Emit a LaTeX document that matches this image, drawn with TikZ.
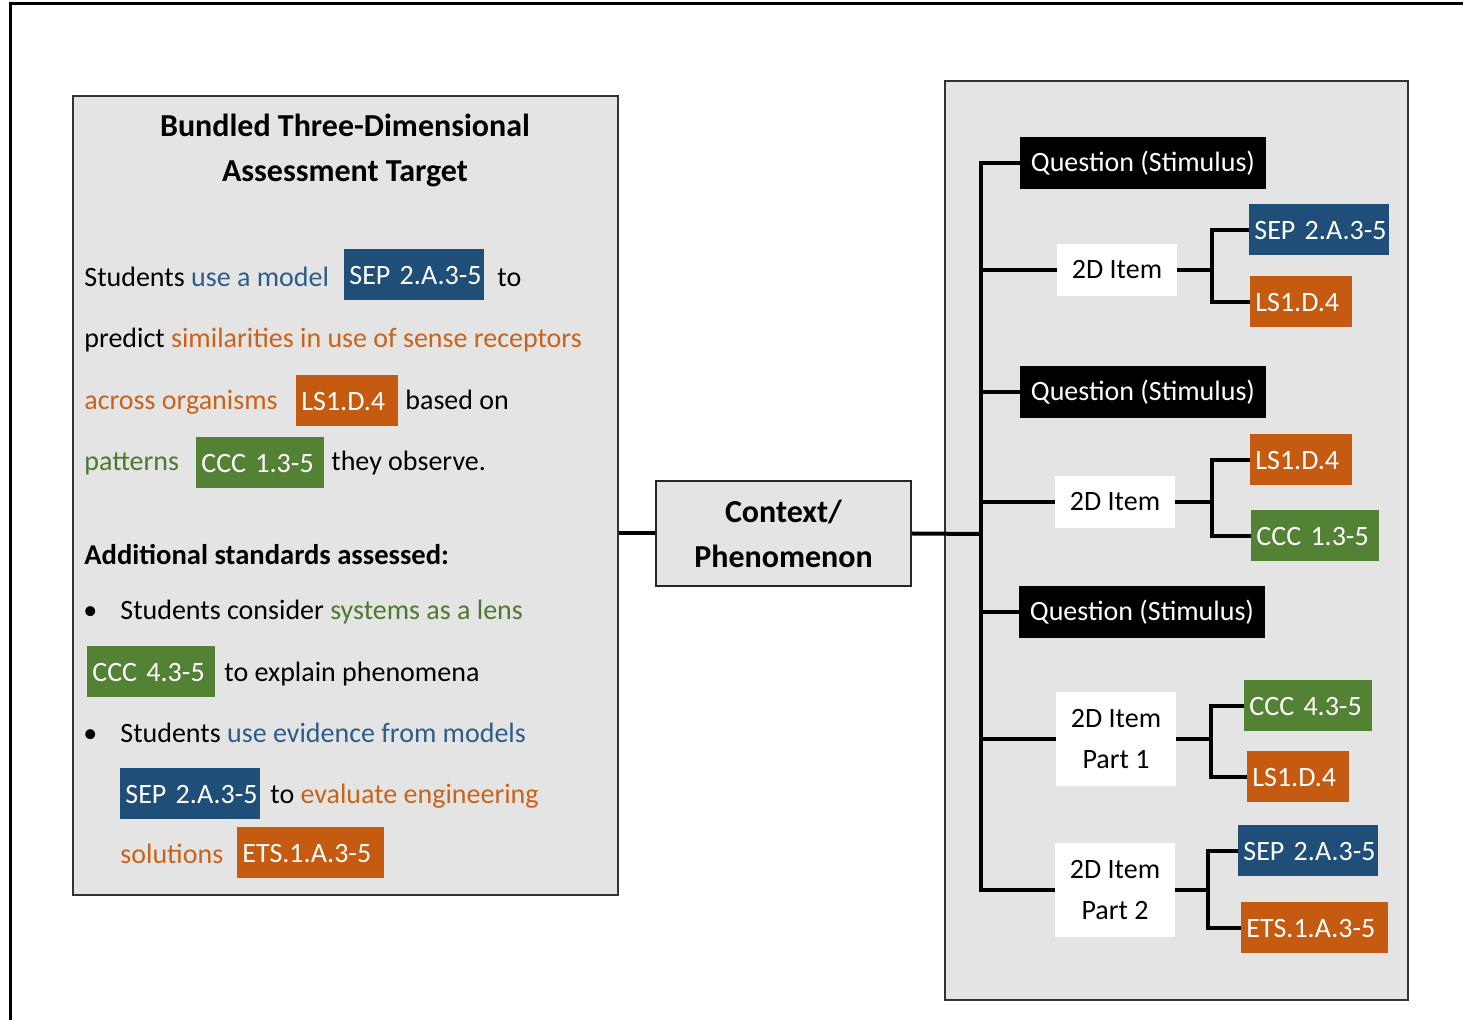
\documentclass[tikz,border=0pt]{standalone}
\usepackage{fontspec}
\setmainfont{Carlito}

\providecommand{\Fbody}{\fontsize{14}{20.5}\selectfont}
\providecommand{\Ftag}{\fontsize{14}{20.5}\selectfont\exhyphenpenalty=10000\relax}
\providecommand{\Fhead}{\fontsize{16}{22.5}\selectfont\bfseries}
\providecommand{\Fsub}{\fontsize{14.3}{18}\selectfont\bfseries}
\providecommand{\Trunk}{981}
\providecommand{\Ybranch}{534}

\definecolor{panelgray}{HTML}{E4E4E4}
\definecolor{sepblue}{HTML}{1F4E79}
\definecolor{lsorange}{HTML}{C55A11}
\definecolor{cccgreen}{HTML}{548235}
\definecolor{textblue}{HTML}{2E5C8A}
\definecolor{textorange}{HTML}{C8631C}
\definecolor{textgreen}{HTML}{4B7A2E}

\tikzset{
  panel/.style={rectangle, draw=black!80, line width=1pt, fill=panelgray, inner sep=0pt},
  txt/.style={anchor=west, inner sep=0pt, font=\Fbody, text height=10pt, text depth=0pt},
  tag/.style={rectangle, anchor=west, inner xsep=2.5pt, inner ysep=0pt, minimum height=25.5pt,
              text=white, font=\Ftag, text height=10pt, text depth=0pt, align=left},
  sepbox/.style={tag, fill=sepblue, text width=65pt},
  lsbox/.style={tag, fill=lsorange, text width=46pt},
  cccbox/.style={tag, fill=cccgreen, text width=59pt},
  etsbox/.style={tag, fill=lsorange, text width=68.5pt},
  qbox/.style={rectangle, fill=black, text=white, font=\Fbody, inner sep=0pt,
               minimum width=123pt, minimum height=26pt},
  itembox/.style={rectangle, fill=white, font=\Fbody, align=center, inner sep=0pt,
                  minimum width=60pt, minimum height=26pt},
  ctxbox/.style={panel, draw=black!85, font=\Fhead, align=center,
                 minimum width=127.5pt, minimum height=52.5pt},
  link/.style={draw=black, line width=2pt}
}

\begin{document}
\begin{tikzpicture}[x=0.5pt, y=-0.5pt]
\useasboundingbox (0,0) rectangle (1463,1020);

% outer frame (only top and left edges fall inside the page)
\draw[line width=1.5pt] (10,1030) -- (10,4) -- (1470,4);

% left panel: the bundled target
\node (target) [panel, minimum width=272.5pt, minimum height=399.5pt] at (345.5,495.5) {};
\node (title) [font=\Fhead, align=center] at (345,150)
  {Bundled Three-Dimensional\\Assessment Target};

\node (la) [txt] at (84,277) {Students {\color{textblue}use a model}};
\node (ta) [sepbox] at (344,275) {SEP~2.A.3-5};
\node (lb) [txt] at (497,277) {to};
\node (lc) [txt] at (84,338) {predict {\color{textorange}similarities in use of sense receptors}};
\node (ld) [txt, text=textorange] at (84,400) {across organisms};
\node (tb) [lsbox] at (296,401) {LS1.D.4};
\node (le) [txt] at (405,400) {based on};
\node (lf) [txt, text=textgreen] at (84,461) {patterns};
\node (tc) [cccbox] at (196,463) {CCC~1.3-5};
\node (lg) [txt] at (331,461) {they observe.};

\node (extra) [txt, font=\Fsub] at (84,555) {Additional standards assessed:};
\node (ba) [txt] at (83,610) {\textbullet};
\node (lh) [txt] at (120,610) {Students consider {\color{textgreen}systems as a lens}};
\node (td) [cccbox] at (87,672) {CCC~4.3-5};
\node (li) [txt] at (224,672) {to explain phenomena};
\node (bb) [txt] at (83,733) {\textbullet};
\node (lj) [txt] at (120,733) {Students {\color{textblue}use evidence from models}};
\node (te) [sepbox] at (120,794) {SEP~2.A.3-5};
\node (lk) [txt] at (270,794) {to {\color{textorange}evaluate engineering}};
\node (ll) [txt, text=textorange] at (120,854) {solutions};
\node (tf) [etsbox] at (237,853) {ETS.1.A.3-5};

% middle: context
\node (ctx) [ctxbox] at (783.5,533.5) {Context/\\Phenomenon};

% right panel: items
\node (items) [panel, minimum width=231.5pt, minimum height=459.5pt] at (1176.5,540.5) {};

\node (qa) [qbox] at (1143,163) {Question (Stimulus)};
\node (ia) [itembox] at (1117,270) {2D Item};
\node (ra) [sepbox] at (1249,230) {SEP~2.A.3-5};
\node (sa) [lsbox] at (1250,302) {LS1.D.4};

\node (qb) [qbox] at (1143,392) {Question (Stimulus)};
\node (ib) [itembox] at (1115,502) {2D Item};
\node (rb) [lsbox] at (1250,460) {LS1.D.4};
\node (sb) [cccbox] at (1251,536) {CCC~1.3-5};

\node (qc) [qbox] at (1142,612) {Question (Stimulus)};
\node (ic) [itembox, minimum height=47pt] at (1116,739) {2D Item\\Part 1};
\node (rc) [cccbox] at (1244,706) {CCC~4.3-5};
\node (sc) [lsbox] at (1247,777) {LS1.D.4};

\node (id) [itembox, minimum height=47pt] at (1115,890) {2D Item\\Part 2};
\node (rd) [sepbox] at (1238,851) {SEP~2.A.3-5};
\node (sd) [etsbox] at (1241,928) {ETS.1.A.3-5};

\coordinate (trunk) at (\Trunk,\Ybranch);

% target -> context -> trunk
\draw[link] (target.east |- ctx.west) -- (ctx.west);
\draw[link] (ctx.east) -- (trunk);
\draw[link] (qa.west) -- (qa.west -| trunk) -- (id.west -| trunk) -- (id.west);

% trunk -> questions and items
\foreach \nd in {qb,qc,ia,ib,ic}{
  \draw[link] (\nd.west -| trunk) -- (\nd.west);
}

% item -> standards
\foreach \it/\up/\dn/\kx in {ia/ra/sa/1212, ib/rb/sb/1212, ic/rc/sc/1211, id/rd/sd/1208}{
  \coordinate (k) at (\kx,0);
  \draw[link] (\it.east) -- (\it.east -| k);
  \draw[link] (\up.west) -- (\up.west -| k) -- (\dn.west -| k) -- (\dn.west);
}

\end{tikzpicture}
\end{document}
